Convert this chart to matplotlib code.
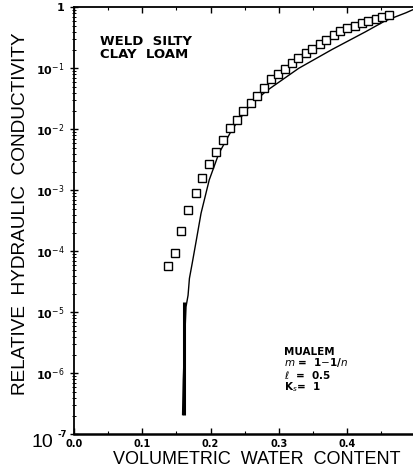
import matplotlib
matplotlib.use("Agg")
import matplotlib.pyplot as plt
from matplotlib.ticker import FixedLocator, NullFormatter, LogLocator

# measured relative conductivity (squares)
theta_obs = [0.138, 0.148, 0.157, 0.167, 0.178, 0.188, 0.198, 0.208, 0.218, 0.229,
             0.238, 0.248, 0.259, 0.268, 0.278, 0.288, 0.299, 0.309, 0.319, 0.328,
             0.339, 0.349, 0.360, 0.369, 0.380, 0.390, 0.400, 0.411, 0.421, 0.431,
             0.442, 0.451, 0.461]
kr_obs = [5.75e-5, 9.3e-5, 2.14e-4, 4.7e-4, 8.9e-4, 1.58e-3, 2.75e-3, 4.3e-3, 6.6e-3, 1.05e-2,
          1.41e-2, 2.0e-2, 2.7e-2, 3.5e-2, 4.7e-2, 6.6e-2, 8.1e-2, 9.8e-2, 0.123, 0.148,
          0.178, 0.209, 0.251, 0.295, 0.355, 0.407, 0.457, 0.501, 0.562, 0.589,
          0.631, 0.692, 0.759]

# Mualem prediction (solid curve)
theta_fit = [0.159, 0.160, 0.162, 0.164, 0.167, 0.169, 0.173, 0.179, 0.186, 0.198,
             0.212, 0.232, 0.256, 0.281, 0.329, 0.378, 0.427, 0.456, 0.486, 0.496]
kr_fit = [2.1e-7, 7.8e-7, 3.5e-6, 1.23e-5, 1.9e-5, 3.6e-5, 6.3e-5, 1.5e-4, 4.2e-4, 1.48e-3,
          4.0e-3, 1.02e-2, 2.34e-2, 4.2e-2, 0.100, 0.204, 0.398, 0.603, 0.813, 0.912]

# heavy stroke near residual water content
theta_tail = [0.1615, 0.1615]
kr_tail = [1.5e-5, 2.1e-7]

xticks = [0.0, 0.1, 0.2, 0.3, 0.4]
xlabels = ["0.0", "0.1", "0.2", "0.3", "0.4"]
yticks = [1, 1e-1, 1e-2, 1e-3, 1e-4, 1e-5, 1e-6, 1e-7]
ylabels = ["1", r"10$^{-1}$", r"10$^{-2}$", r"10$^{-3}$", r"10$^{-4}$",
           r"10$^{-5}$", r"10$^{-6}$", ""]

W, H = 413, 476
fig = plt.figure(figsize=(W / 100, H / 100), dpi=100)
ax = fig.add_axes([74 / W, 1 - 434.3 / H, (W - 74) / W, (434.3 - 7.3) / H])

ax.set_yscale("log")
ax.set_xlim(0, (W - 74) / 683)
ax.set_ylim(1e-7, 1)

ax.plot(theta_fit, kr_fit, color="black", lw=1.0)
ax.plot(theta_tail, kr_tail, color="black", lw=2.2, solid_capstyle="butt")
ax.plot(theta_obs, kr_obs, ls="none", marker="s", ms=5.2, mfc="white",
        mec="black", mew=1.0)

ax.spines["right"].set_visible(False)
ax.spines["bottom"].set_linewidth(1.8)
ax.spines["left"].set_linewidth(1.3)
ax.spines["top"].set_linewidth(1.3)

ax.xaxis.set_major_locator(FixedLocator(xticks))
ax.set_xticklabels(xlabels)
ax.xaxis.set_minor_locator(FixedLocator([0.05, 0.15, 0.25, 0.35, 0.45]))
ax.tick_params(axis="x", which="both", direction="in", top=True, bottom=True,
               labelsize=7, pad=3.5)
ax.tick_params(axis="x", which="major", length=4, width=1)
ax.tick_params(axis="x", which="minor", length=2, width=0.8)
for lab in ax.get_xticklabels():
    lab.set_fontweight("bold")

ax.yaxis.set_major_locator(FixedLocator(yticks))
ax.set_yticklabels(ylabels)
ax.yaxis.set_minor_locator(LogLocator(base=10, subs=range(2, 10), numticks=20))
ax.yaxis.set_minor_formatter(NullFormatter())
ax.tick_params(axis="y", which="both", direction="inout", right=False,
               labelsize=8, pad=4)
ax.tick_params(axis="y", which="major", length=6, width=1)
ax.tick_params(axis="y", which="minor", length=3, width=0.7)
for lab in ax.get_yticklabels():
    lab.set_fontweight("bold")

# bottom decade label drawn apart, larger "10"
ytr = ax.get_yaxis_transform()
ax.text(-0.092, 1e-7, "10", transform=ytr, fontsize=14, family="Liberation Sans",
        ha="center", va="top")
ax.text(-0.035, 1e-7, "-7", transform=ytr, fontsize=6, fontweight="bold",
        ha="center", va="center")

ax.set_ylabel("RELATIVE  HYDRAULIC  CONDUCTIVITY", family="Liberation Sans",
              fontsize=13.7)
ax.yaxis.set_label_coords(-0.133, 0.517)
ax.set_xlabel("VOLUMETRIC  WATER  CONTENT", family="Liberation Sans",
              fontsize=13)
ax.xaxis.set_label_coords(0.54, -0.04)
ax.xaxis.label.set_va("top")

ax.text(0.077, 0.935, "WELD  SILTY\nCLAY  LOAM", transform=ax.transAxes,
        fontsize=9.5, fontweight="bold", ha="left", va="top", linespacing=1.0)
ax.text(0.62, 0.205, "MUALEM\n$m$ =  1$-$1/$n$\n$\\ell$  =  0.5\nK$_s$=  1",
        transform=ax.transAxes, fontsize=7.5, fontweight="bold", ha="left",
        va="top", linespacing=0.95)

fig.savefig("out.png", dpi=100)
